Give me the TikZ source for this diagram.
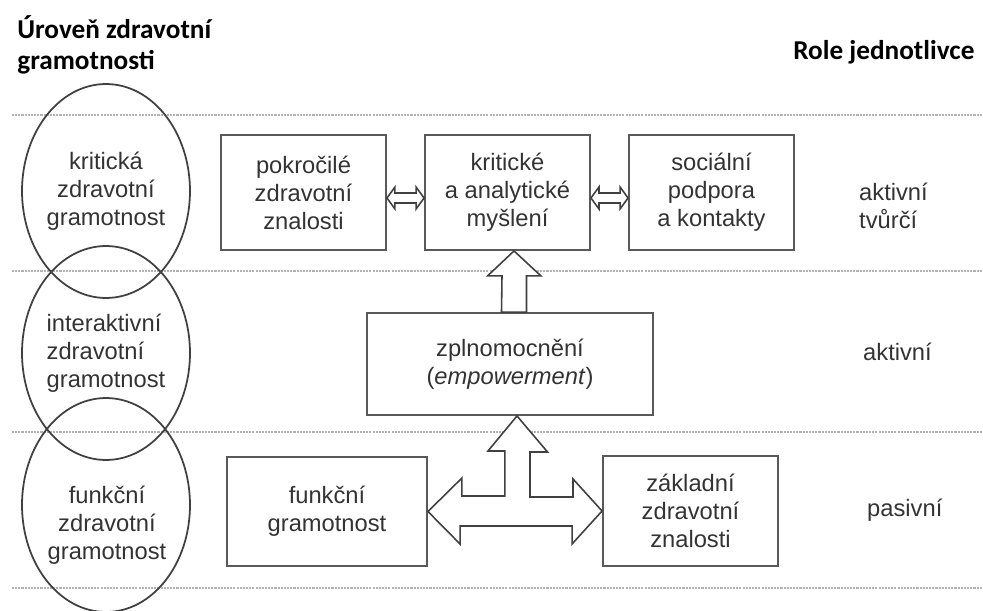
\documentclass[tikz,border=0pt]{standalone}
\usepackage{fontspec}
\setmainfont{Liberation Sans}
\newfontfamily\headfont{Carlito}
\usepackage{xcolor}
\usepackage{tikz}
\usetikzlibrary{positioning,shapes.geometric,calc}

\begin{document}
\begin{tikzpicture}[x=0.02cm,y=-0.02cm]
  \tikzstyle{box} = [draw=black!65, line width=1.1pt, align=center, text=black!80,
    inner sep=0pt, font=\fontsize{13.5}{16}\selectfont]
  \tikzstyle{lvl} = [draw=black!75, line width=1pt, ellipse, minimum width=3.36cm,
    minimum height=4.28cm, inner sep=-4pt, align=center, text=black!80,
    font=\fontsize{13.5}{16}\selectfont]
  \tikzstyle{lvltxt} = [align=center, text=black!80, font=\fontsize{13.5}{16}\selectfont]
  \tikzstyle{role} = [anchor=west, align=left, text=black!80,
    font=\fontsize{13.5}{16}\selectfont]
  \tikzstyle{heading} = [anchor=west, align=left, inner sep=0pt,
    font=\headfont\bfseries\fontsize{15.5}{17.5}\selectfont]
  \tikzstyle{levelline} = [black!30, line width=1pt, dash pattern=on 1.2pt off 0.6pt]
  \tikzstyle{blockarrow} = [draw=black!75, line width=0.9pt, fill=white, line join=miter]

  \useasboundingbox (0,0) rectangle (983,611);

  \foreach \y in {115,271,432,588}
    \draw[levelline] (12,\y) -- (983,\y);

  \node[heading] (uroven) at (17,45) {Úroveň zdravotní\\gramotnosti};
  \node[heading] (role) at (793,52) {Role jednotlivce};

  \node[lvl] (kzg) at (106,191) {kritická\\zdravotní\\gramotnost};
  \node[lvl, align=left] (izg) at (106,353) {interaktivní\\zdravotní\\gramotnost};
  \node[lvl] (fzg) at (106,505) {};
  \node[lvltxt] (fzgtxt) at (107,525) {funkční\\zdravotní\\gramotnost};

  \node[box, minimum width=3.3cm, minimum height=2.3cm] (pzz) at (303.5,192.5)
    {pokročilé\\zdravotní\\znalosti};
  \node[box, minimum width=3.3cm, minimum height=2.3cm] (kam) at (507.5,192.5)
    {kritické\\a analytické\\myšlení};
  \node[box, minimum width=3.3cm, minimum height=2.3cm] (spk) at (711.5,192.5)
    {sociální\\podpora\\a kontakty};
  \node[box, minimum width=5.72cm, minimum height=2.04cm] (zpl) at (510,364)
    {zplnomocnění\\(\textit{empowerment})};
  \node[box, minimum width=4cm, minimum height=2.18cm] (fgr) at (327,511.5)
    {funkční\\gramotnost};
  \node[box, minimum width=3.5cm, minimum height=2.2cm] (zzz) at (690.5,511)
    {základní\\zdravotní\\znalosti};

  \node[role] (aktvt) at (853,206) {aktivní\\tvůrčí};
  \node[role] (akt) at (857,352) {aktivní};
  \node[role] (pas) at (861,510) {pasivní};

  \draw[blockarrow] ($(pzz.east)+(0,5.5)$) -- ++(8,-11) -- ++(0,6)
    -- ($(kam.west)+(-8,0.5)$) -- ++(0,-6) -- ($(kam.west)+(0,5.5)$)
    -- ++(-8,11) -- ++(0,-6) -- ($(pzz.east)+(8,10.5)$) -- ++(0,6) -- cycle;
  \draw[blockarrow] ($(kam.east)+(0,5.5)$) -- ++(8,-11) -- ++(0,6)
    -- ($(spk.west)+(-8,0.5)$) -- ++(0,-6) -- ($(spk.west)+(0,5.5)$)
    -- ++(-8,11) -- ++(0,-6) -- ($(kam.east)+(8,10.5)$) -- ++(0,6) -- cycle;

  \draw[blockarrow] ($(kam.south)+(6.5,0)$) -- ++(27,25) -- ++(-14.5,0)
    -- ($(zpl.north)+(16.5,0)$) -- ++(-25,0) -- ($(kam.south)+(-5.5,25)$)
    -- ++(-14.5,0) -- cycle;
  \draw[blockarrow] ($(zpl.south)+(7,0)$) -- ++(30.5,36) -- ++(-17.5,0)
    -- ++(0,45) -- ++(43,0) -- ++(0,-18) -- (zzz.west) -- ++(-30,33)
    -- ++(0,-18) -- ++(-112,0) -- ++(0,18) -- (fgr.east) -- ++(34,-33.5)
    -- ++(0,18) -- ++(43,0) -- ++(0,-45) -- ++(-17,0) -- cycle;
\end{tikzpicture}
\end{document}
